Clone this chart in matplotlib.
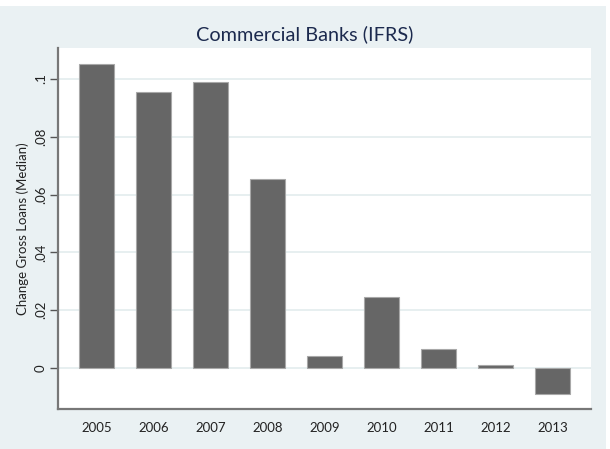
import matplotlib.pyplot as plt
from matplotlib.patches import Rectangle

years = ['2005', '2006', '2007', '2008', '2009', '2010', '2011', '2012', '2013']
median_change = [0.1052, 0.0955, 0.0988, 0.0654, 0.0043, 0.0246, 0.0067, 0.0010, -0.0090]
yticks = [0, 0.02, 0.04, 0.06, 0.08, 0.1]
ytick_labels = ['0', '.02', '.04', '.06', '.08', '.1']

plt.rcParams['font.family'] = ['Lato', 'DejaVu Sans']

W, H = 610, 449
fig = plt.figure(figsize=(W / 100, H / 100), dpi=100, facecolor='white')

# stata-like light background, white strip on top and right
bg = '#EAF1F3'
fig.patches.append(Rectangle((0, 0), 606 / W, (H - 6) / H, transform=fig.transFigure,
                             facecolor=bg, edgecolor='none', zorder=-10))

ax = fig.add_axes([58 / W, (H - 409) / H, (591 - 58) / W, (409 - 48) / H])
ax.set_zorder(1)
ax.set_facecolor('white')

pos = list(range(1, len(years) + 1))
ax.bar(pos, median_change, width=0.614, color='#666666', edgecolor='#a8a8a8',
       linewidth=0.8, zorder=3)

ax.set_xlim(0.32, 9.67)
ax.set_ylim(-0.01419, 0.1107)
ax.set_xticks(pos)
ax.set_xticklabels(years, fontsize=9.5, color='#222222')
ax.set_yticks(yticks)
ax.set_yticklabels(ytick_labels, fontsize=9.5, color='#222222', rotation=90, va='center')
ax.grid(axis='y', color='#E3ECEE', linewidth=1.2, zorder=0)

ax.tick_params(axis='x', length=0, pad=9)
ax.tick_params(axis='y', length=6, width=1, color='#555555', pad=2)

for s in ['top', 'right']:
    ax.spines[s].set_visible(False)
for s in ['left', 'bottom']:
    ax.spines[s].set_color('#777777')
    ax.spines[s].set_linewidth(1.6)

ax.set_ylabel('Change Gross Loans (Median)', fontsize=9.5, color='#222222', labelpad=4)
fig.text(304.5 / W, (H - 34) / H, 'Commercial Banks (IFRS)', ha='center', va='center',
         fontsize=14.3, color='#1C2A4E', zorder=5)

fig.savefig('out.png', dpi=100, facecolor='white')
